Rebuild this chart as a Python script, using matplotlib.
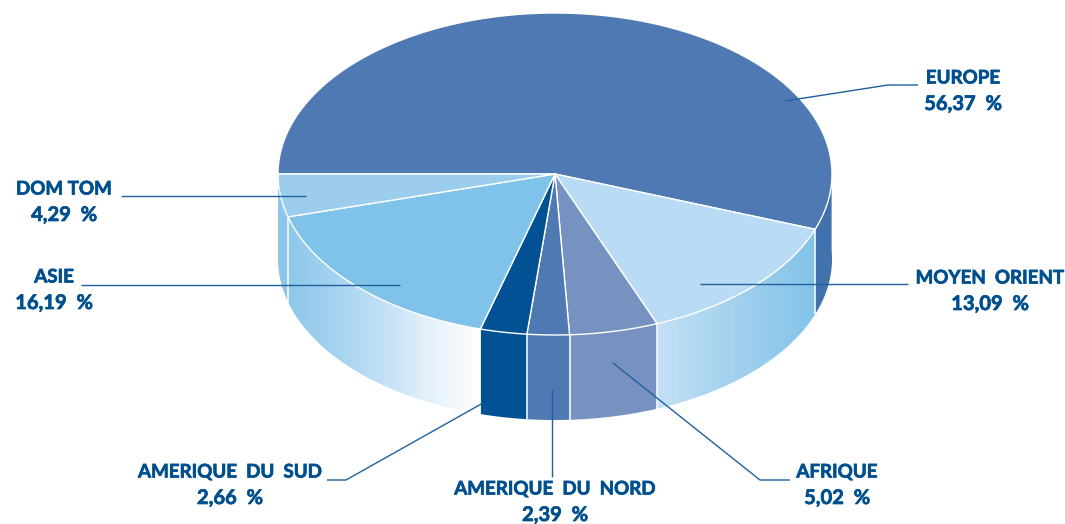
#!/usr/bin/python3
import numpy as np
from matplotlib import pyplot as plt
from matplotlib import patheffects
from matplotlib.colors import LinearSegmentedColormap
from matplotlib.patches import Polygon

# data, clockwise from the left edge of the pie
names = ['EUROPE', 'MOYEN  ORIENT', 'AFRIQUE', 'AMERIQUE  DU  NORD',
         'AMERIQUE  DU  SUD', 'ASIE', 'DOM TOM']
shares = [56.37, 13.09, 5.02, 2.39, 2.66, 16.19, 4.29]
top_colors = ['#4F79B3', '#B9DBF3', '#7792C1', '#4E79B3', '#005294', '#7FC3EA', '#9CCDEC']
wall_colors = ['#4172AE', None, '#7792C1', '#4E79B3', '#005294', None, '#8DC6EA']

# gradients of the two light walls
wall_grads = {1: ['#C4E0F5', '#ACD5F0', '#97CCEC', '#82C4E9'],
              5: ['#8CC8EA', '#A5D3EF', '#C3E0F5', '#E6F2FB', '#FFFFFF']}

# label position and leader line, in pixels
label_pos = [(963, 91), (990, 291), (837, 485), (555, 502), (230, 485), (54, 290), (64, 202)]
leaders = [[(785, 101), (888, 85), (918, 85)],
           [(700, 284), (908, 284)],
           [(613, 363), (760, 480), (790, 480)],
           [(552, 389), (552, 477)],
           [(483, 403), (346, 480), (327, 480)],
           [(81, 285), (400, 285)],
           [(121, 196), (306, 196)]]

cx, cy = 555, 174
rx, ry = 277, 161
depth = 85
ink = '#00508F'
line_blue = '#1F609F'


def rim(a, b, n=160):
    # the pie was not drawn in a true projection, the right side runs a bit ahead
    t = np.linspace(a, b, n)
    u = (1 + np.cos(np.radians(t))) / 2
    t = np.radians(t + 3 * u ** 1.5)
    return cx + rx * np.cos(t), cy - ry * np.sin(t)


def main():
    plt.rcParams['font.family'] = ['Lato', 'DejaVu Sans']
    fig = plt.figure(figsize=(10.65, 5.24), dpi=100)
    ax = fig.add_axes([0, 0, 1, 1])

    # angles of the slices, going clockwise from the left
    total = sum(shares)
    edges = 180 - np.cumsum([0] + shares) * 360 / total

    # side walls, only the part turned to the viewer
    for i in range(len(shares)):
        a, b = min(edges[i], 0), edges[i + 1]
        x, y = rim(a, b)
        poly = np.column_stack([np.r_[x, x[::-1]], np.r_[y, y[::-1] + depth]])
        if wall_colors[i] is None:
            cmap = LinearSegmentedColormap.from_list('w', wall_grads[i])
            im = ax.imshow(np.linspace(0, 1, 256)[None, :], cmap=cmap, aspect='auto',
                           extent=(x.min(), x.max(), y.max() + depth, y.min()), zorder=1)
            patch = Polygon(poly, closed=True, fc='none', ec='none')
            ax.add_patch(patch)
            im.set_clip_path(patch)
        else:
            ax.add_patch(Polygon(poly, closed=True, fc=wall_colors[i], ec='none', zorder=1))

    # white seams between the walls
    for e in edges[1:-1]:
        x, y = rim(e, e, 1)
        ax.plot([x[0], x[0]], [y[0], y[0] + depth], color='white', lw=1.1, zorder=2,
                solid_capstyle='butt')

    # top of the pie
    for i in range(len(shares)):
        x, y = rim(edges[i], edges[i + 1])
        poly = np.column_stack([np.r_[cx, x], np.r_[cy, y]])
        ax.add_patch(Polygon(poly, closed=True, fc=top_colors[i], ec='white', lw=1.0,
                             joinstyle='round', zorder=3))

    # leaders and labels
    heavy = [patheffects.withStroke(linewidth=0.5, foreground=ink)]
    for i in range(len(names)):
        xs, ys = zip(*leaders[i])
        ax.plot(xs, ys, color=line_blue, lw=1.0, zorder=4, solid_capstyle='butt')
        value = ('%.2f' % shares[i]).replace('.', ',') + '  %'
        ax.text(label_pos[i][0], label_pos[i][1] - 13, names[i], ha='center', va='center',
                color=ink, fontsize=13.5, fontweight='bold', zorder=5, path_effects=heavy)
        ax.text(label_pos[i][0], label_pos[i][1] + 13, value, ha='center', va='center',
                color=ink, fontsize=14.5, fontweight='bold', zorder=5, path_effects=heavy)

    ax.set_xlim(0, 1065)
    ax.set_ylim(524, 0)
    ax.axis('off')
    fig.savefig('out.png', dpi=100)


if __name__ == '__main__':
    main()
